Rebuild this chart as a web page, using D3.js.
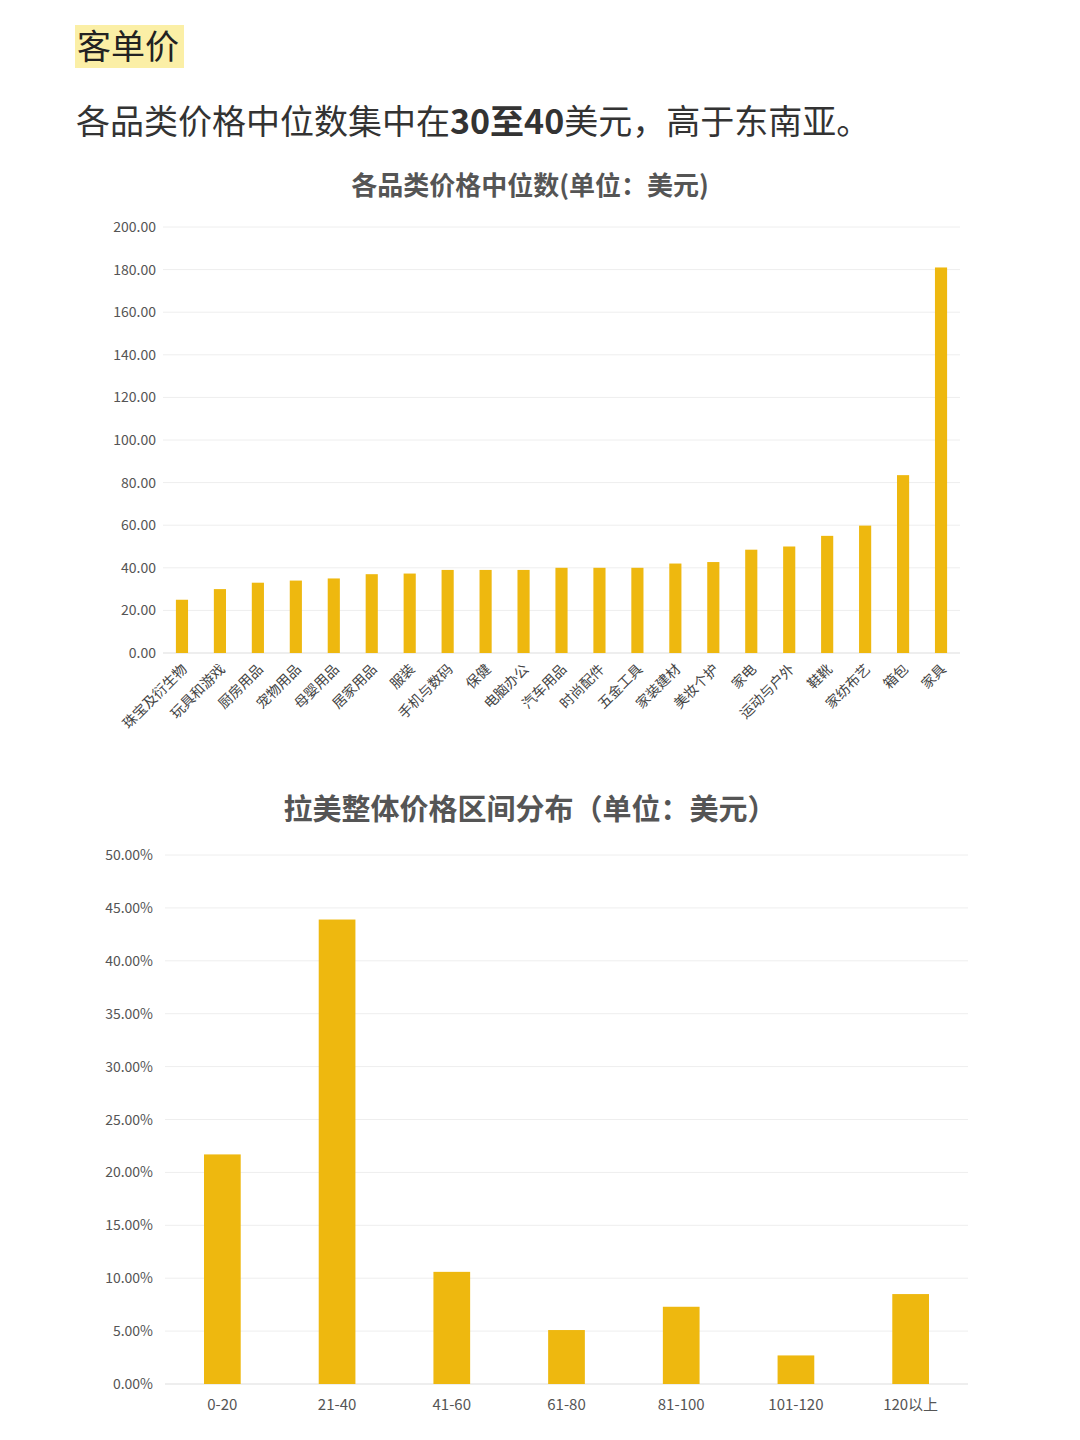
<!DOCTYPE html><html><head><meta charset="utf-8"><script src="https://cdn.jsdelivr.net/npm/d3@7"></script>
<style>body{margin:0;background:#fff;font-family:"Noto Sans CJK SC","Noto Sans",sans-serif}</style></head><body><svg id="c" width="1080" height="1440"></svg>
<script>
const categories=["珠宝及衍生物","玩具和游戏","厨房用品","宠物用品","母婴用品","居家用品","服装","手机与数码","保健","电脑办公","汽车用品","时尚配件","五金工具","家装建材","美妆个护","家电","运动与户外","鞋靴","家纺布艺","箱包","家具"];
const medians=[25.0,30.0,33.0,34.0,35.0,37.0,37.3,39.0,39.0,39.0,40.0,40.0,40.0,42.0,42.7,48.5,50.0,55.0,59.8,83.5,181.0];
const yTicks1=[0,20,40,60,80,100,120,140,160,180,200];
const ranges=["0-20","21-40","41-60","61-80","81-100","101-120","120以上"];
const shares=[21.7,43.9,10.6,5.1,7.3,2.7,8.5];
const yTicks2=[0,5,10,15,20,25,30,35,40,45,50];
const svg=d3.select("#c"),col="#EEB80F",font='"Noto Sans CJK SC",sans-serif';
svg.append("rect").attr("x",75).attr("y",25).attr("width",109).attr("height",43).attr("fill","#FBEFA6");
svg.append("text").attr("x",77).attr("y",59).attr("font-size",34).attr("fill","#222").attr("font-family",font).text("客单价");
const st=svg.append("text").attr("x",76).attr("y",134).attr("font-size",34).attr("fill","#333").attr("font-family",font);
st.append("tspan").text("各品类价格中位数集中在");st.append("tspan").attr("font-weight","bold").text("30至40");st.append("tspan").text("美元，高于东南亚。");
// chart 1
const x1=d3.scaleBand().domain(categories).range([163,960]).paddingInner(0.68).paddingOuter(0.34);
const y1=d3.scaleLinear().domain([0,200]).range([653,227]);
svg.append("text").attr("x",530).attr("y",195).attr("text-anchor","middle").attr("font-size",26).attr("font-weight","bold").attr("fill","#555").attr("font-family",font).text("各品类价格中位数(单位：美元)");
const g1=svg.append("g");
yTicks1.forEach(t=>{g1.append("line").attr("x1",163).attr("x2",960).attr("y1",y1(t)).attr("y2",y1(t)).attr("stroke",t===0?"#ddd":"#eee");
g1.append("text").attr("x",156).attr("y",y1(t)+5).attr("text-anchor","end").attr("font-size",14).attr("fill","#555").attr("font-family",font).text(t.toFixed(2));});
g1.selectAll("rect").data(medians).join("rect").attr("x",(d,i)=>x1(categories[i])).attr("width",x1.bandwidth()).attr("y",d=>y1(d)).attr("height",d=>y1(0)-y1(d)).attr("fill",col);
categories.forEach(c=>{const cx=x1(c)+x1.bandwidth()/2+6;g1.append("text").attr("transform",`translate(${cx},670) rotate(-45)`).attr("text-anchor","end").attr("font-size",14).attr("fill","#444").attr("font-family",font).text(c);});
// chart 2
const x2=d3.scaleBand().domain(ranges).range([165,968]).paddingInner(0.68).paddingOuter(0.34);
const y2=d3.scaleLinear().domain([0,50]).range([1384,855]);
svg.append("text").attr("x",530).attr("y",820).attr("text-anchor","middle").attr("font-size",29).attr("font-weight","bold").attr("fill","#555").attr("font-family",font).text("拉美整体价格区间分布（单位：美元）");
const g2=svg.append("g");
yTicks2.forEach(t=>{g2.append("line").attr("x1",165).attr("x2",968).attr("y1",y2(t)).attr("y2",y2(t)).attr("stroke",t===0?"#ddd":"#eee");
g2.append("text").attr("x",153).attr("y",y2(t)+5).attr("text-anchor","end").attr("font-size",14).attr("fill","#555").attr("font-family",font).text(t.toFixed(2)+"%");});
g2.selectAll("rect").data(shares).join("rect").attr("x",(d,i)=>x2(ranges[i])).attr("width",x2.bandwidth()).attr("y",d=>y2(d)).attr("height",d=>y2(0)-y2(d)).attr("fill",col);
ranges.forEach(r=>g2.append("text").attr("x",x2(r)+x2.bandwidth()/2).attr("y",1410).attr("text-anchor","middle").attr("font-size",15).attr("fill","#555").attr("font-family",font).text(r));
</script></body></html>
